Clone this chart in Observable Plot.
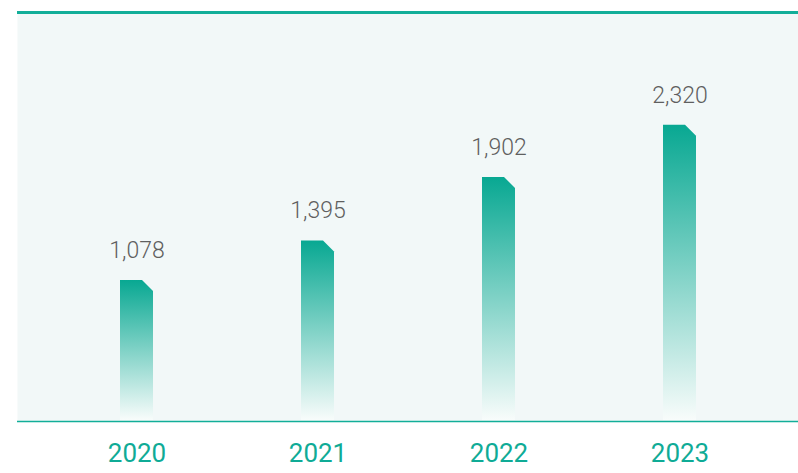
<!DOCTYPE html>
<html>
<head>
<meta charset="utf-8">
<script src="https://cdn.jsdelivr.net/npm/d3@7"></script>
<script src="https://cdn.jsdelivr.net/npm/@observablehq/plot@0.6"></script>
<style>
  html, body { margin: 0; padding: 0; background: #ffffff; }
  #chart svg { display: block; }
</style>
</head>
<body>
<div id="chart"></div>
<script>
// Data
const years = ["2020", "2021", "2022", "2023"];
const values = [1078, 1395, 1902, 2320];
const valueLabels = ["1,078", "1,395", "1,902", "2,320"];

const teal = "#0fab96";
const data = years.map((year, i) => ({ year, value: values[i], label: valueLabels[i] }));
const yMax = 3220;

const chart = Plot.plot({
  width: 798,
  height: 473,
  marginLeft: 17,
  marginRight: 0,
  marginTop: 12,
  marginBottom: 58,
  x: { domain: years, paddingInner: 0.818, paddingOuter: 0.566, axis: null },
  y: { domain: [0, yMax], axis: null },
  style: { fontFamily: "Roboto, 'Noto Sans', sans-serif", background: "#ffffff", overflow: "visible" },
  marks: [
    Plot.frame({ fill: "#f2f8f8", stroke: "none", insetBottom: -6 }),
    Plot.ruleY([yMax], { stroke: "#12ae99", strokeWidth: 3 }),
    Plot.ruleY([0], { stroke: "#12ae99", strokeWidth: 1.6, dy: 6 }),
    Plot.barY(data, { x: "year", y: "value", fill: teal, insetBottom: -5 }),
    Plot.text(data, { x: "year", y: "value", text: "label", dy: -30, fontSize: 23, fontWeight: 300, fill: "#5f5f5f" }),
    Plot.text(data, { x: "year", text: "year", frameAnchor: "bottom", dy: 46, fontSize: 26, fill: teal })
  ]
});

// gradient + cut corner on bars
const svg = d3.select(chart);
const defs = svg.insert("defs", ":first-child");
const grad = defs.append("linearGradient")
  .attr("id", "barGrad")
  .attr("x1", 0).attr("y1", 0).attr("x2", 0).attr("y2", 1);
grad.append("stop").attr("offset", "0%").attr("stop-color", "#08a892");
grad.append("stop").attr("offset", "100%").attr("stop-color", "#f8fcfb");

svg.selectAll('g[aria-label="bar"] rect').each(function () {
  const r = d3.select(this);
  const x = +r.attr("x"), y = +r.attr("y"), w = +r.attr("width"), h = +r.attr("height");
  const c = 11;
  d3.select(this.parentNode).insert("path", () => this)
    .attr("d", `M${x},${y + h}L${x},${y}L${x + w - c},${y}L${x + w},${y + c}L${x + w},${y + h}Z`)
    .attr("fill", "url(#barGrad)");
  r.remove();
});

document.getElementById("chart").appendChild(chart);
</script>
</body>
</html>
